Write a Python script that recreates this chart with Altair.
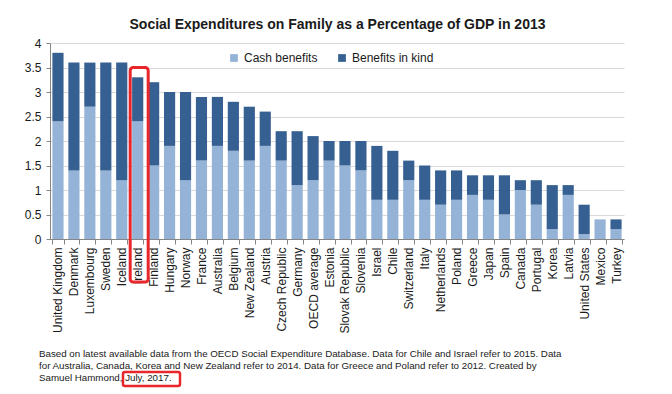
import altair as alt
import pandas as pd

countries = ["United Kingdom", "Denmark", "Luxembourg", "Sweden", "Iceland", "Ireland",
             "Finland", "Hungary", "Norway", "France", "Australia", "Belgium",
             "New Zealand", "Austria", "Czech Republic", "Germany", "OECD average",
             "Estonia", "Slovak Republic", "Slovenia", "Israel", "Chile", "Switzerland",
             "Italy", "Netherlands", "Poland", "Greece", "Japan", "Spain", "Canada",
             "Portugal", "Korea", "Latvia", "United States", "Mexico", "Turkey"]
cash = [2.4, 1.4, 2.7, 1.4, 1.2, 2.4, 1.5, 1.9, 1.2, 1.6, 1.9, 1.8,
        1.6, 1.9, 1.6, 1.1, 1.2, 1.6, 1.5, 1.4, 0.8, 0.8, 1.2,
        0.8, 0.7, 0.8, 0.9, 0.8, 0.5, 1.0, 0.7, 0.2, 0.9, 0.1, 0.4, 0.2]
total = [3.8, 3.6, 3.6, 3.6, 3.6, 3.3, 3.2, 3.0, 3.0, 2.9, 2.9, 2.8,
         2.7, 2.6, 2.2, 2.2, 2.1, 2.0, 2.0, 2.0, 1.9, 1.8, 1.6,
         1.5, 1.4, 1.4, 1.3, 1.3, 1.3, 1.2, 1.2, 1.1, 1.1, 0.7, 0.4, 0.4]
series = ["Cash benefits", "Benefits in kind"]
colors = ["#95B3D7", "#376092"]
y_ticks = [0, 0.5, 1, 1.5, 2, 2.5, 3, 3.5, 4]
title_text = "Social Expenditures on Family  as a Percentage of GDP in 2013"
footnote = [
    "Based on latest available data from the OECD  Social Expenditure Database. Data for Chile and Israel refer to 2015. Data",
    "for Australia, Canada, Korea and New Zealand refer to 2014. Data for Greece and Poland  refer to 2012. Created by",
    "Samuel Hammond, July, 2017.",
]
highlight_country = "Ireland"

rows = []
for c, cs, t in zip(countries, cash, total):
    rows.append({"country": c, "type": series[0], "y0": 0.0, "y1": cs})
    rows.append({"country": c, "type": series[1], "y0": cs, "y1": t})
df = pd.DataFrame(rows)

FONT = "Liberation Sans"
TXT = "#1a1a1a"

x_axis = alt.Axis(labelAngle=-90, labelAlign="right", labelBaseline="middle",
                  labelFontSize=12, labelColor=TXT, labelFont=FONT,
                  labelPadding=3, tickBand="extent", tickSize=5,
                  tickColor="#868686", domainColor="#868686", grid=False,
                  labelOverlap=False)
y_axis = alt.Axis(values=y_ticks, format="~g", labelFontSize=12,
                  labelFont=FONT, labelColor=TXT, labelPadding=5,
                  tickSize=4, tickColor="#868686", domainColor="#868686",
                  gridColor="#d9d9d9", labelFlush=False, labelOverlap=False)
x_scale = alt.Scale(paddingInner=0.3, paddingOuter=0.15)
y_scale = alt.Scale(domain=[0, 4], nice=False, zero=True)

bars = alt.Chart(df).mark_bar().encode(
    x=alt.X("country:N", sort=countries, title=None, scale=x_scale, axis=x_axis),
    y=alt.Y("y0:Q", title=None, scale=y_scale, axis=y_axis),
    y2="y1:Q",
    color=alt.Color("type:N", scale=alt.Scale(domain=series, range=colors),
                    sort=series, title=None,
                    legend=alt.Legend(orient="none", legendX=178, legendY=9,
                                      direction="horizontal", symbolType="square",
                                      symbolSize=60, labelFontSize=12, labelFont=FONT,
                                      labelColor=TXT, columnPadding=18,
                                      symbolStrokeWidth=0, labelOffset=4, padding=0)),
)

hl = alt.Chart(pd.DataFrame({"country": [highlight_country], "top": [3.5], "bottom": [-0.88]})).mark_bar(
    width=18, fillOpacity=0, stroke="#e8262b", strokeWidth=3, cornerRadius=3, clip=False,
    xOffset=1.5,
).encode(
    x=alt.X("country:N", sort=countries, title=None, scale=x_scale, axis=x_axis),
    y=alt.Y("top:Q", title=None, scale=y_scale, axis=y_axis),
    y2="bottom:Q",
)

title = alt.Chart(pd.DataFrame({"a": [0]})).mark_text(
    align="center", baseline="alphabetic", fontSize=14, font=FONT, fontWeight="bold",
    color=TXT,
).encode(x=alt.value(287.5), y=alt.value(-14), text=alt.value(title_text))

note = alt.Chart(pd.DataFrame({"a": [0]})).mark_text(
    align="left", baseline="alphabetic", fontSize=9.75, font=FONT, color=TXT,
    lineHeight=12,
).encode(x=alt.value(-11), y=alt.value(314), text=alt.value(footnote))

date_box = alt.Chart(pd.DataFrame({"a": [0]})).mark_rect(
    fillOpacity=0, stroke="#e8262b", strokeWidth=2.5, cornerRadius=2,
).encode(x=alt.value(73), x2=alt.value(130), y=alt.value(329), y2=alt.value(343))

chart = alt.layer(bars, hl, title, note, date_box).properties(
    width=574, height=196,
    autosize=alt.AutoSizeParams(type="none"),
    padding={"left": 42, "top": 35, "right": 40, "bottom": 155},
).configure_view(stroke=None).configure_axis(domainWidth=1)

chart.save("out.html", embed_options={"renderer": "svg", "actions": False})
